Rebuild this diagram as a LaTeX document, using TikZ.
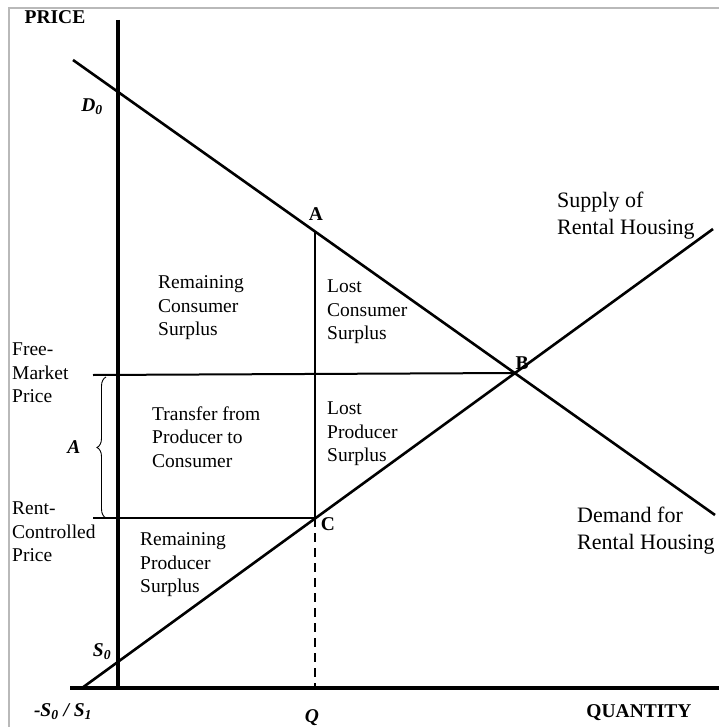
\documentclass[tikz,border=0pt]{standalone}
\usepackage{fontspec}
\setmainfont{Liberation Serif}
\usetikzlibrary{decorations.pathreplacing}
\begin{document}
\begin{tikzpicture}[x=1pt,y=-1pt,
  lbl/.style={inner sep=0pt, align=left, anchor=west, font=\fontsize{19.5}{23.5}\selectfont},
  big/.style={inner sep=0pt, align=left, anchor=west, font=\fontsize{22}{27}\selectfont},
  ax/.style={line width=3.2pt},
  curve/.style={line width=2.6pt},
  guide/.style={line width=2pt},
  pt/.style={inner sep=0pt, font=\fontsize{19.5}{23}\selectfont\bfseries},
  ipt/.style={inner sep=0pt, font=\fontsize{19.5}{23}\selectfont\bfseries\itshape}]
\useasboundingbox (0,0) rectangle (719,727);
% frame
\draw[gray!55, line width=2pt] (9,727) -- (9,8) -- (719,8);
% coordinates
\coordinate (PT) at (118,20);
\coordinate (O) at (118,688);
\coordinate (QL) at (70,688);
\coordinate (QR) at (719,688);
\coordinate (Ds) at (73,60);
\coordinate (De) at (715,515);
\coordinate (Ss) at (82,688);
\coordinate (Se) at (713,229);
\coordinate (A) at (315,231);
\coordinate (B) at (515,373);
\coordinate (C) at (315,518);
\coordinate (Qb) at (315,688);
\coordinate (FL) at (93,375);
\coordinate (RL) at (93,518);
\coordinate (BrT) at (106,377);
\coordinate (BrB) at (106,518);
% axes
\draw[ax] (PT) -- (O);
\draw[ax] (QL) -- (QR);
% demand and supply
\draw[curve] (Ds) -- (De);
\draw[curve] (Ss) -- (Se);
% guides
\draw[guide] (FL) -- (B);
\draw[guide] (RL) -- (C);
\draw[line width=1.8pt] (A) -- (C);
\draw[line width=1.8pt, dash pattern=on 9pt off 6pt] (C) -- (Qb);
% brace
\draw[decorate, decoration={brace, amplitude=9pt}, line width=0.9pt] (BrB) -- (BrT);
% axis labels
\node[pt] (price) at (55,17) {PRICE};
\node[pt] (qty) at (639,713) {QUANTITY};
\node[ipt] (d0) at (92,107) {D\textsubscript{0}};
\node[ipt] (s0) at (102,652) {S\textsubscript{0}};
\node[ipt] (q) at (312,718) {Q};
\node[ipt] (ss) at (63,712) {-S\textsubscript{0} / S\textsubscript{1}};
\node[ipt] (dA) at (74,447) {A};
\node[pt] (lA) at (316,214) {A};
\node[pt] (lB) at (522,363) {B};
\node[pt] (lC) at (328,524) {C};
% area labels
\node[lbl] (rcs) at (158,308) {Remaining\\Consumer\\Surplus};
\node[lbl] (lcs) at (327,312) {Lost\\Consumer\\Surplus};
\node[lbl] (tpc) at (152,437) {Transfer from\\Producer to\\Consumer};
\node[lbl] (lps) at (327,434) {Lost\\Producer\\Surplus};
\node[lbl] (rps) at (140,565) {Remaining\\Producer\\Surplus};
\node[lbl] (fmp) at (12,373) {Free-\\Market\\Price};
\node[lbl] (rcp) at (12,532) {Rent-\\Controlled\\Price};
\node[big] (sup) at (557,216) {Supply of\\Rental Housing};
\node[big] (dem) at (577,531) {Demand for\\Rental Housing};
\end{tikzpicture}
\end{document}
